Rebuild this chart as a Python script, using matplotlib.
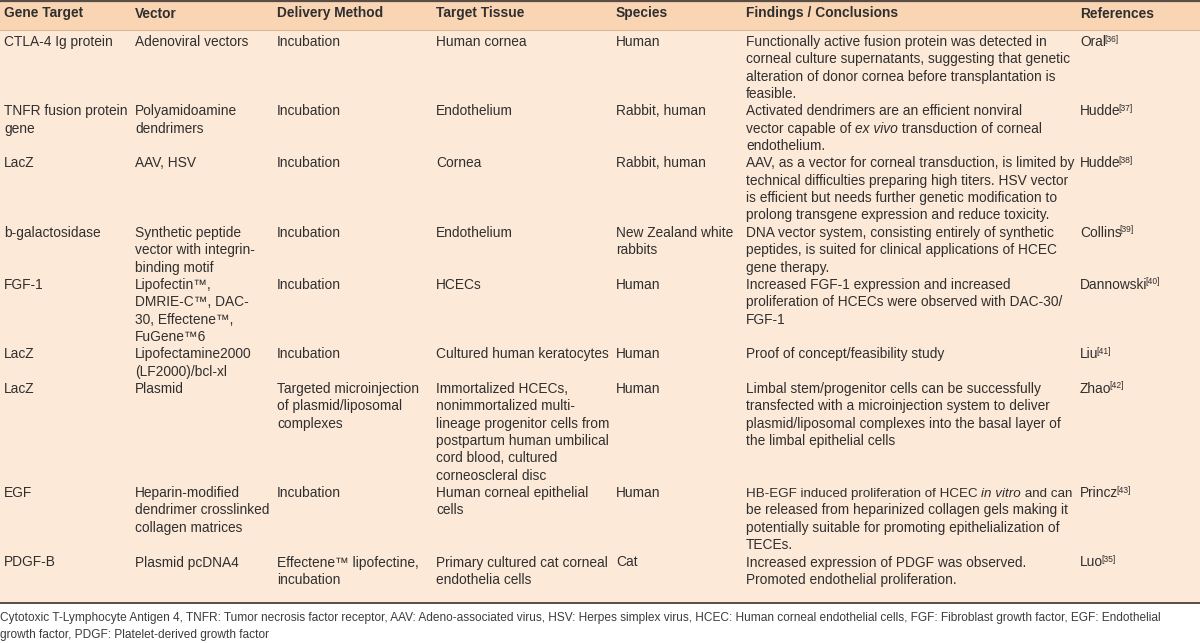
import matplotlib
matplotlib.use("Agg")
import matplotlib.pyplot as plt
from matplotlib.patches import Rectangle

plt.rcParams['font.family'] = ['Liberation Sans', 'DejaVu Sans']

headers = ["Gene Target", "Vector", "Delivery Method", "Target Tissue", "Species",
           "Findings / Conclusions", "References"]

gene_target = ["CTLA-4 Ig protein", "TNFR fusion protein\ngene", "LacZ", "b-galactosidase",
               "FGF-1", "LacZ", "LacZ", "EGF", "PDGF-B"]
vector = ["Adenoviral vectors", "Polyamidoamine\ndendrimers", "AAV, HSV",
          "Synthetic peptide\nvector with integrin-\nbinding motif",
          "Lipofectin\u2122,\nDMRIE-C\u2122, DAC-\n30, Effectene\u2122,\nFuGene\u21226",
          "Lipofectamine2000\n(LF2000)/bcl-xl", "Plasmid",
          "Heparin-modified\ndendrimer crosslinked\ncollagen matrices", "Plasmid pcDNA4"]
delivery = ["Incubation", "Incubation", "Incubation", "Incubation", "Incubation", "Incubation",
            "Targeted microinjection\nof plasmid/liposomal\ncomplexes", "Incubation",
            "Effectene\u2122 lipofectine,\nincubation"]
tissue = ["Human cornea", "Endothelium", "Cornea", "Endothelium", "HCECs",
          "Cultured human keratocytes",
          "Immortalized HCECs,\nnonimmortalized multi-\nlineage progenitor cells from\n"
          "postpartum human umbilical\ncord blood, cultured\ncorneoscleral disc",
          "Human corneal epithelial\ncells", "Primary cultured cat corneal\nendothelia cells"]
species = ["Human", "Rabbit, human", "Rabbit, human", "New Zealand white\nrabbits", "Human",
           "Human", "Human", "Human", "Cat"]
findings = [
    "Functionally active fusion protein was detected in\ncorneal culture supernatants, suggesting that genetic\n"
    "alteration of donor cornea before transplantation is\nfeasible.",
    "Activated dendrimers are an efficient nonviral\nvector capable of *ex vivo* transduction of corneal\nendothelium.",
    "AAV, as a vector for corneal transduction, is limited by\ntechnical difficulties preparing high titers. HSV vector\n"
    "is efficient but needs further genetic modification to\nprolong transgene expression and reduce toxicity.",
    "DNA vector system, consisting entirely of synthetic\npeptides, is suited for clinical applications of HCEC\ngene therapy.",
    "Increased FGF-1 expression and increased\nproliferation of HCECs were observed with DAC-30/\nFGF-1",
    "Proof of concept/feasibility study",
    "Limbal stem/progenitor cells can be successfully\ntransfected with a microinjection system to deliver\n"
    "plasmid/liposomal complexes into the basal layer of\nthe limbal epithelial cells",
    "HB-EGF induced proliferation of HCEC *in vitro* and can\nbe released from heparinized collagen gels making it\n"
    "potentially suitable for promoting epithelialization of\nTECEs.",
    "Increased expression of PDGF was observed.\nPromoted endothelial proliferation.",
]
ref_names = ["Oral", "Hudde", "Hudde", "Collins", "Dannowski", "Liu", "Zhao", "Princz", "Luo"]
ref_nums = ["[36]", "[37]", "[38]", "[39]", "[40]", "[41]", "[42]", "[43]", "[35]"]

footnote = ["Cytotoxic T-Lymphocyte Antigen 4, TNFR: Tumor necrosis factor receptor, AAV: Adeno-associated virus, "
            "HSV: Herpes simplex virus, HCEC: Human corneal endothelial cells, FGF: Fibroblast growth factor, EGF: Endothelial",
            "growth factor, PDGF: Platelet-derived growth factor"]

W, H = 1200, 643
fig = plt.figure(figsize=(W / 100, H / 100), dpi=100)
ax = fig.add_axes([0, 0, 1, 1])
ax.set_xlim(0, W)
ax.set_ylim(H, 0)
ax.axis('off')

col_x = [4, 135, 277, 436, 616, 746, 1080]
header_bg = '#f9d5b4'
body_bg = '#fde9d8'
line_c = '#5a4d45'
txt_c = '#2f2f2f'
FS = 9.95
LH = 17.35
y0 = 41.0
BASE = 5.0

ax.add_patch(Rectangle((0, 0), W, 29.5, facecolor=header_bg, edgecolor='none'))
ax.add_patch(Rectangle((0, 29.5), W, 602 - 29.5, facecolor=body_bg, edgecolor='none'))
ax.plot([0, W], [0.8, 0.8], color=line_c, lw=1.6)
ax.plot([0, W], [29.5, 29.5], color='#d9b89a', lw=0.8)
ax.plot([0, W], [602.5, 602.5], color=line_c, lw=1.4)

for x, h in zip(col_x, headers):
    ax.text(x, 12.5 + BASE, h, fontsize=FS, fontweight='bold', color=txt_c, va='baseline', ha='left')

fig.canvas.draw()
renderer = fig.canvas.get_renderer()


def width_of(t):
    return t.get_window_extent(renderer).width


def draw_mixed(x, y, line, fs, maxw=None):
    parts = line.split('*')
    cx = x
    texts = []
    for i, p in enumerate(parts):
        if not p:
            continue
        t = ax.text(cx, y + BASE, p, fontsize=fs, color=txt_c, va='baseline', ha='left',
                    fontstyle='italic' if i % 2 == 1 else 'normal')
        texts.append(t)
        cx += width_of(t)
    if maxw is not None and cx - x > maxw:
        for t in texts:
            t.remove()
        draw_mixed(x, y, line, fs * maxw / (cx - x), None)


cum = 0
for r in range(len(gene_target)):
    cells = [gene_target[r], vector[r], delivery[r], tissue[r], species[r], findings[r]]
    nlines = max(c.count('\n') + 1 for c in cells)
    ytop = y0 + cum * LH
    for ci, c in enumerate(cells):
        maxw = (col_x[6] - col_x[5] - 7) if ci == 5 else None
        for li, line in enumerate(c.split('\n')):
            draw_mixed(col_x[ci], ytop + li * LH, line, FS, maxw)
    t = ax.text(col_x[6], ytop + BASE, ref_names[r], fontsize=FS, color=txt_c, va='baseline', ha='left')
    w = width_of(t)
    ax.text(col_x[6] + w - 1.8, ytop + BASE - 4.5, ref_nums[r], fontsize=FS * 0.62, color=txt_c,
            va='baseline', ha='left')
    cum += nlines

for i, fl in enumerate(footnote):
    ax.text(0, 617 + 4.3 + i * 16.5, fl, fontsize=8.6, color='#3c3c3c', va='baseline', ha='left')

fig.savefig('out.png', dpi=100, facecolor='white')
